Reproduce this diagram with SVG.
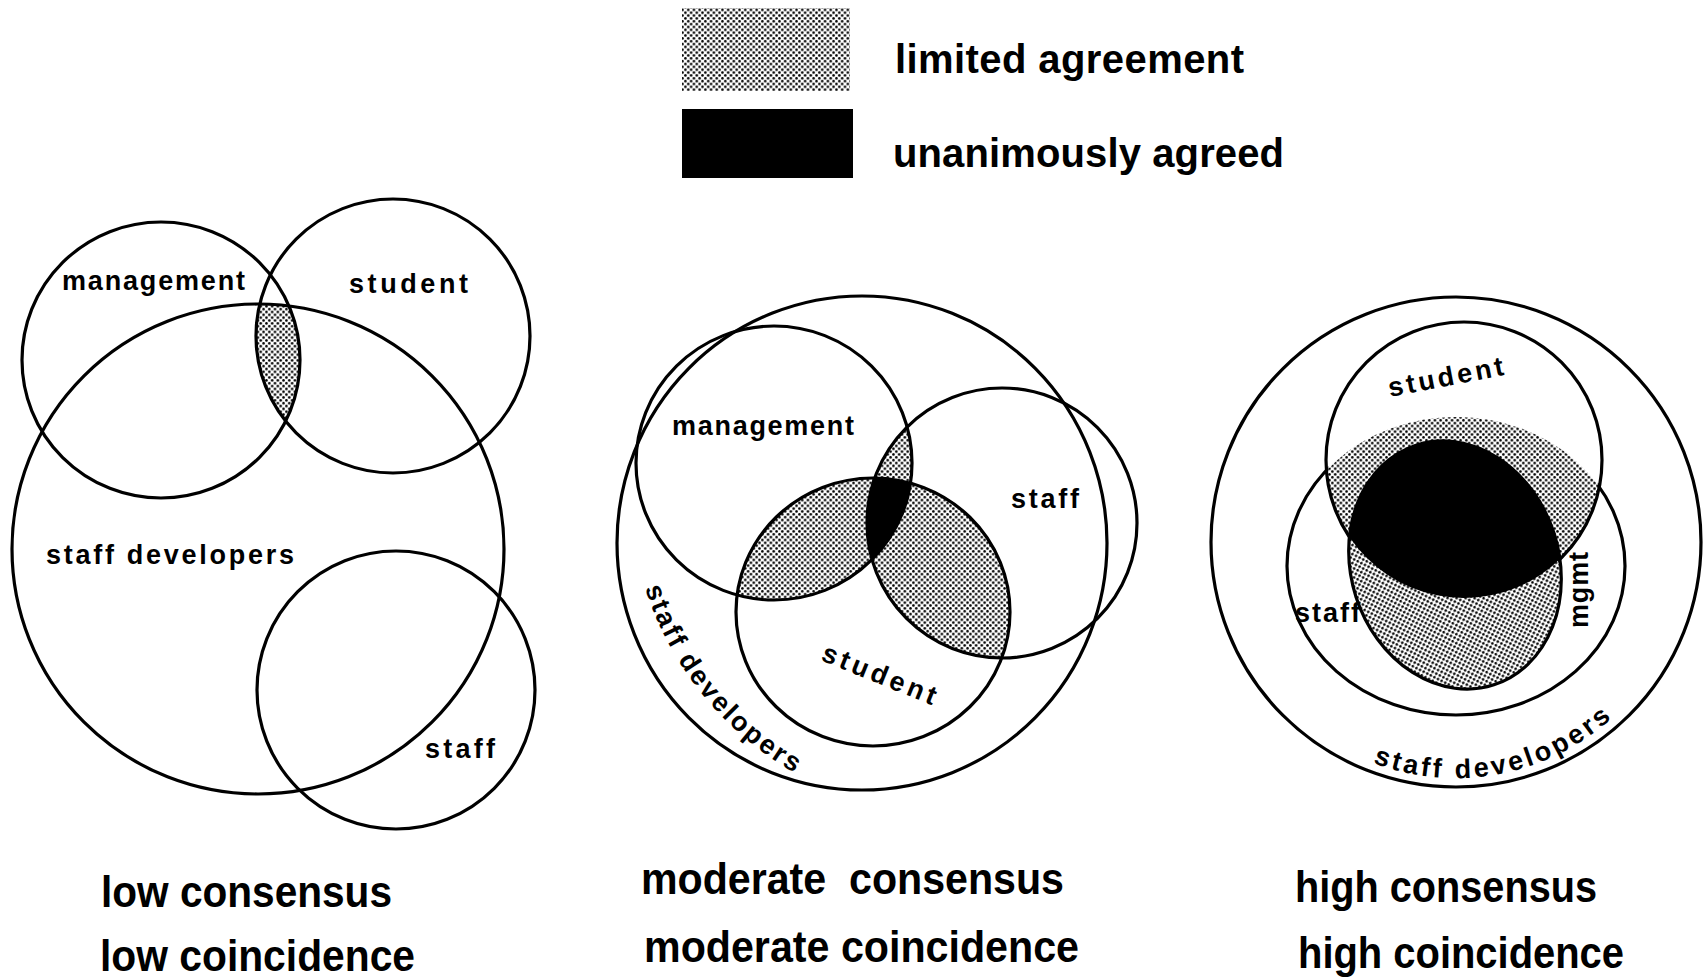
<svg xmlns="http://www.w3.org/2000/svg" width="1706" height="979" viewBox="0 0 1706 979">
  <style>
    .ring { fill: none; stroke: #000; stroke-width: 3.2; }
    .lbl { font-family: "Liberation Sans", Arial, sans-serif; font-weight: bold; font-size: 27px; fill: #000; }
    .cap { font-family: "Liberation Sans", Arial, sans-serif; font-weight: bold; font-size: 44px; fill: #000; }
    .key { font-family: "Liberation Sans", Arial, sans-serif; font-weight: bold; font-size: 40px; fill: #000; }
    .dots { fill: url(#dots); stroke: none; }
    .solid { fill: #000; stroke: none; }
  </style>
  <defs>
    <!-- halftone screen used for "limited agreement" -->
    <pattern id="dots" patternUnits="userSpaceOnUse" width="5.7" height="5.7">
      <rect width="5.7" height="5.7" fill="#fff"/>
      <circle cx="1.4" cy="1.4" r="1.3" fill="#000"/>
      <circle cx="4.25" cy="4.25" r="1.3" fill="#000"/>
    </pattern>

    <!-- left diagram sets -->
    <clipPath id="cl-mgmt"><ellipse cx="161" cy="360" rx="139" ry="138"/></clipPath>
    <clipPath id="cl-dev"><ellipse cx="258" cy="549" rx="246" ry="245"/></clipPath>

    <!-- middle diagram sets -->
    <clipPath id="cm-mgmt"><ellipse cx="774" cy="463" rx="138" ry="137"/></clipPath>
    <clipPath id="cm-staff"><ellipse cx="1002" cy="523" rx="135" ry="135"/></clipPath>

    <!-- right diagram sets -->
    <clipPath id="cr-student"><ellipse cx="1464" cy="460" rx="138" ry="138"/></clipPath>
    <clipPath id="cr-staff"><ellipse cx="1456" cy="566" rx="169" ry="149"/></clipPath>
    <mask id="mr-out-student" maskUnits="userSpaceOnUse" x="1100" y="250" width="606" height="600">
      <rect x="1100" y="250" width="606" height="600" fill="#fff"/>
      <ellipse cx="1464" cy="460" rx="136" ry="136" fill="#000"/>
    </mask>
    <mask id="mr-out-mgmt" maskUnits="userSpaceOnUse" x="1100" y="250" width="606" height="600">
      <rect x="1100" y="250" width="606" height="600" fill="#fff"/>
      <ellipse cx="1455" cy="565" rx="102" ry="124" transform="rotate(-18 1455 565)" fill="#000"/>
    </mask>

    <!-- baselines for curved labels -->
    <path id="arc-mid-dev" d="M 645 588 A 327 327 0 0 0 793 772"/>
    <path id="arc-right-dev" d="M 1373 763 A 233 233 0 0 0 1612 718"/>
  </defs>

  <rect width="1706" height="979" fill="#fff"/>

  <!-- key -->
  <g id="legend">
    <rect class="dots" x="682" y="8" width="168" height="83"/>
    <text class="key" x="895" y="73" textLength="349">limited agreement</text>
    <rect class="solid" x="682" y="109" width="171" height="69"/>
    <text class="key" x="893" y="167" textLength="391">unanimously agreed</text>
  </g>

  <!-- low consensus / low coincidence -->
  <g id="low">
    <g id="low-shading" clip-path="url(#cl-dev)">
      <g clip-path="url(#cl-mgmt)">
        <ellipse class="dots" cx="393" cy="336" rx="137" ry="137"/>
      </g>
    </g>
    <g id="low-staff-developers">
      <ellipse class="ring" cx="258" cy="549" rx="246" ry="245"/>
      <text class="lbl" x="46" y="564" textLength="248">staff developers</text>
    </g>
    <g id="low-management">
      <ellipse class="ring" cx="161" cy="360" rx="139" ry="138"/>
      <text class="lbl" x="62" y="290" textLength="183">management</text>
    </g>
    <g id="low-student">
      <ellipse class="ring" cx="393" cy="336" rx="137" ry="137"/>
      <text class="lbl" x="349" y="293" textLength="119">student</text>
    </g>
    <g id="low-staff">
      <ellipse class="ring" cx="396" cy="690" rx="139" ry="139"/>
      <text class="lbl" x="425" y="758" textLength="70">staff</text>
    </g>
    <g id="low-caption">
      <text class="cap" x="101" y="907" textLength="291" lengthAdjust="spacingAndGlyphs">low consensus</text>
      <text class="cap" x="100" y="971" textLength="315" lengthAdjust="spacingAndGlyphs">low coincidence</text>
    </g>
  </g>

  <!-- moderate consensus / moderate coincidence -->
  <g id="moderate">
    <g id="moderate-shading">
      <g clip-path="url(#cm-mgmt)">
        <ellipse class="dots" cx="1002" cy="523" rx="135" ry="135"/>
        <ellipse class="dots" cx="873" cy="612" rx="137" ry="134"/>
      </g>
      <g clip-path="url(#cm-staff)">
        <ellipse class="dots" cx="873" cy="612" rx="137" ry="134"/>
        <g clip-path="url(#cm-mgmt)">
          <ellipse class="solid" cx="873" cy="612" rx="137" ry="134"/>
        </g>
      </g>
    </g>
    <g id="moderate-staff-developers">
      <ellipse class="ring" cx="862" cy="543" rx="245" ry="247"/>
      <text class="lbl" letter-spacing="2.4"><textPath href="#arc-mid-dev">staff developers</textPath></text>
    </g>
    <g id="moderate-management">
      <ellipse class="ring" cx="774" cy="463" rx="138" ry="137"/>
      <text class="lbl" x="672" y="435" textLength="182">management</text>
    </g>
    <g id="moderate-staff">
      <ellipse class="ring" cx="1002" cy="523" rx="135" ry="135"/>
      <text class="lbl" x="1011" y="508" textLength="68">staff</text>
    </g>
    <g id="moderate-student">
      <ellipse class="ring" cx="873" cy="612" rx="137" ry="134"/>
      <text class="lbl" transform="translate(820 660) rotate(22)" textLength="121">student</text>
    </g>
    <g id="moderate-caption">
      <text class="cap" x="641" y="894" textLength="423" lengthAdjust="spacingAndGlyphs" xml:space="preserve">moderate  consensus</text>
      <text class="cap" x="644" y="962" textLength="435" lengthAdjust="spacingAndGlyphs">moderate coincidence</text>
    </g>
  </g>

  <!-- high consensus / high coincidence -->
  <g id="high">
    <g id="high-shading">
      <g clip-path="url(#cr-staff)">
        <ellipse class="dots" cx="1464" cy="460" rx="138" ry="138"/>
      </g>
      <ellipse class="dots" cx="1455" cy="565" rx="104" ry="126" transform="rotate(-18 1455 565)"/>
      <g clip-path="url(#cr-student)">
        <ellipse class="solid" cx="1455" cy="565" rx="104" ry="126" transform="rotate(-18 1455 565)"/>
      </g>
    </g>
    <g id="high-staff-developers">
      <circle class="ring" cx="1456" cy="542" r="245"/>
      <text class="lbl" letter-spacing="3.2"><textPath href="#arc-right-dev">staff developers</textPath></text>
    </g>
    <g id="high-student">
      <ellipse class="ring" cx="1464" cy="460" rx="138" ry="138" mask="url(#mr-out-mgmt)"/>
      <text class="lbl" transform="translate(1390 397) rotate(-11)" textLength="117">student</text>
    </g>
    <g id="high-staff">
      <ellipse class="ring" cx="1456" cy="566" rx="169" ry="149" mask="url(#mr-out-student)"/>
      <text class="lbl" x="1295" y="622" textLength="65">staff</text>
    </g>
    <g id="high-mgmt">
      <ellipse class="ring" cx="1455" cy="565" rx="104" ry="126" transform="rotate(-18 1455 565)"/>
      <text class="lbl" transform="translate(1588 628) rotate(-90)" textLength="76">mgmt</text>
    </g>
    <g id="high-caption">
      <text class="cap" x="1295" y="902" textLength="302" lengthAdjust="spacingAndGlyphs">high consensus</text>
      <text class="cap" x="1298" y="968" textLength="326" lengthAdjust="spacingAndGlyphs">high coincidence</text>
    </g>
  </g>

  <!-- no connectors in this figure: the sets overlap directly -->
  <g id="connectors"/>
</svg>
